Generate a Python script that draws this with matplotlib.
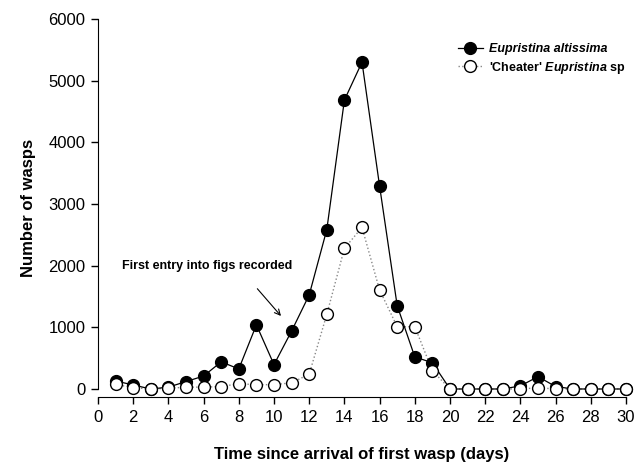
import numpy as np
import matplotlib
matplotlib.use('Agg')
import matplotlib.pyplot as plt

plt.rcParams['font.family'] = ['Liberation Sans', 'DejaVu Sans']
plt.rcParams['mathtext.fontset'] = 'custom'
plt.rcParams['mathtext.bfit'] = 'Liberation Sans:italic:bold'
plt.rcParams['mathtext.it'] = 'Liberation Sans:italic'
plt.rcParams['mathtext.bf'] = 'Liberation Sans:bold'

# 数据
days = np.arange(1, 31)
altissima = [130, 65, 0, 30, 120, 210, 440, 325, 1040, 395,
             940, 1525, 2585, 4685, 5300, 3290, 1350, 520, 425, 0,
             0, 0, 0, 50, 200, 40, 0, 0, 0, 0]
cheater = [75, 20, 0, 10, 30, 30, 40, 85, 70, 70,
           100, 240, 1210, 2280, 2620, 1605, 1010, 1010, 295, 0,
           0, 0, 0, 0, 20, 0, 0, 0, 0, 0]

x_ticks = list(range(0, 31, 2))
y_ticks = [0, 1000, 2000, 3000, 4000, 5000, 6000]

fig = plt.figure(figsize=(6.37, 4.63), dpi=100)
ax = fig.add_axes([98 / 637, 1 - 397 / 463, 528 / 637, 378 / 463])

ax.plot(days, cheater, ':', color='#888888', lw=1.0, zorder=2, clip_on=False)
ax.plot(days, altissima, '-', color='black', lw=0.9, zorder=3, clip_on=False)
ax.plot(days, altissima, 'o', ms=8.5, mfc='black', mec='black',
        clip_on=False, zorder=4)
ax.plot(days, cheater, 'o', ms=8.5, mfc='white', mec='black', mew=1.0,
        clip_on=False, zorder=5)

# 图例句柄
h1, = ax.plot([], [], '-', color='black', lw=0.9, marker='o', ms=8.5,
              mfc='black', mec='black', label='Eupristina altissima')
h2, = ax.plot([], [], ':', color='#888888', lw=1.0, marker='o', ms=8.5,
              mfc='white', mec='black', label=r"'Cheater' $\mathbfit{Eupristina}$ sp")

ax.set_xlim(0, 30)
ax.set_ylim(-130, 6000)
ax.set_xticks(x_ticks)
ax.set_yticks(y_ticks)
ax.spines['top'].set_visible(False)
ax.spines['right'].set_visible(False)
ax.spines['left'].set_bounds(0, 6000)
ax.tick_params(direction='out', length=5, width=1, labelsize=12, pad=4)

ax.set_xlabel('Time since arrival of first wasp (days)', fontsize=12, fontweight='bold', labelpad=16)
ax.set_ylabel('Number of wasps', fontsize=12, fontweight='bold', labelpad=9)

# 注释
ax.annotate('First entry into figs recorded', xy=(10.45, 1170), xytext=(1.35, 2000),
            fontsize=9, fontweight='bold', va='center', ha='left')
ax.annotate('', xy=(10.5, 1150), xytext=(8.95, 1660),
            arrowprops=dict(arrowstyle='->', color='black', lw=0.8))

leg = ax.legend([h1, h2], [h1.get_label(), h2.get_label()], loc='upper left',
                bbox_to_anchor=(0.66, 0.965), frameon=False,
                prop={'weight': 'bold', 'size': 9}, handlelength=2.0,
                handletextpad=0.5, labelspacing=0.35)
leg.get_texts()[0].set_style('italic')

fig.savefig('out.png', dpi=100)
